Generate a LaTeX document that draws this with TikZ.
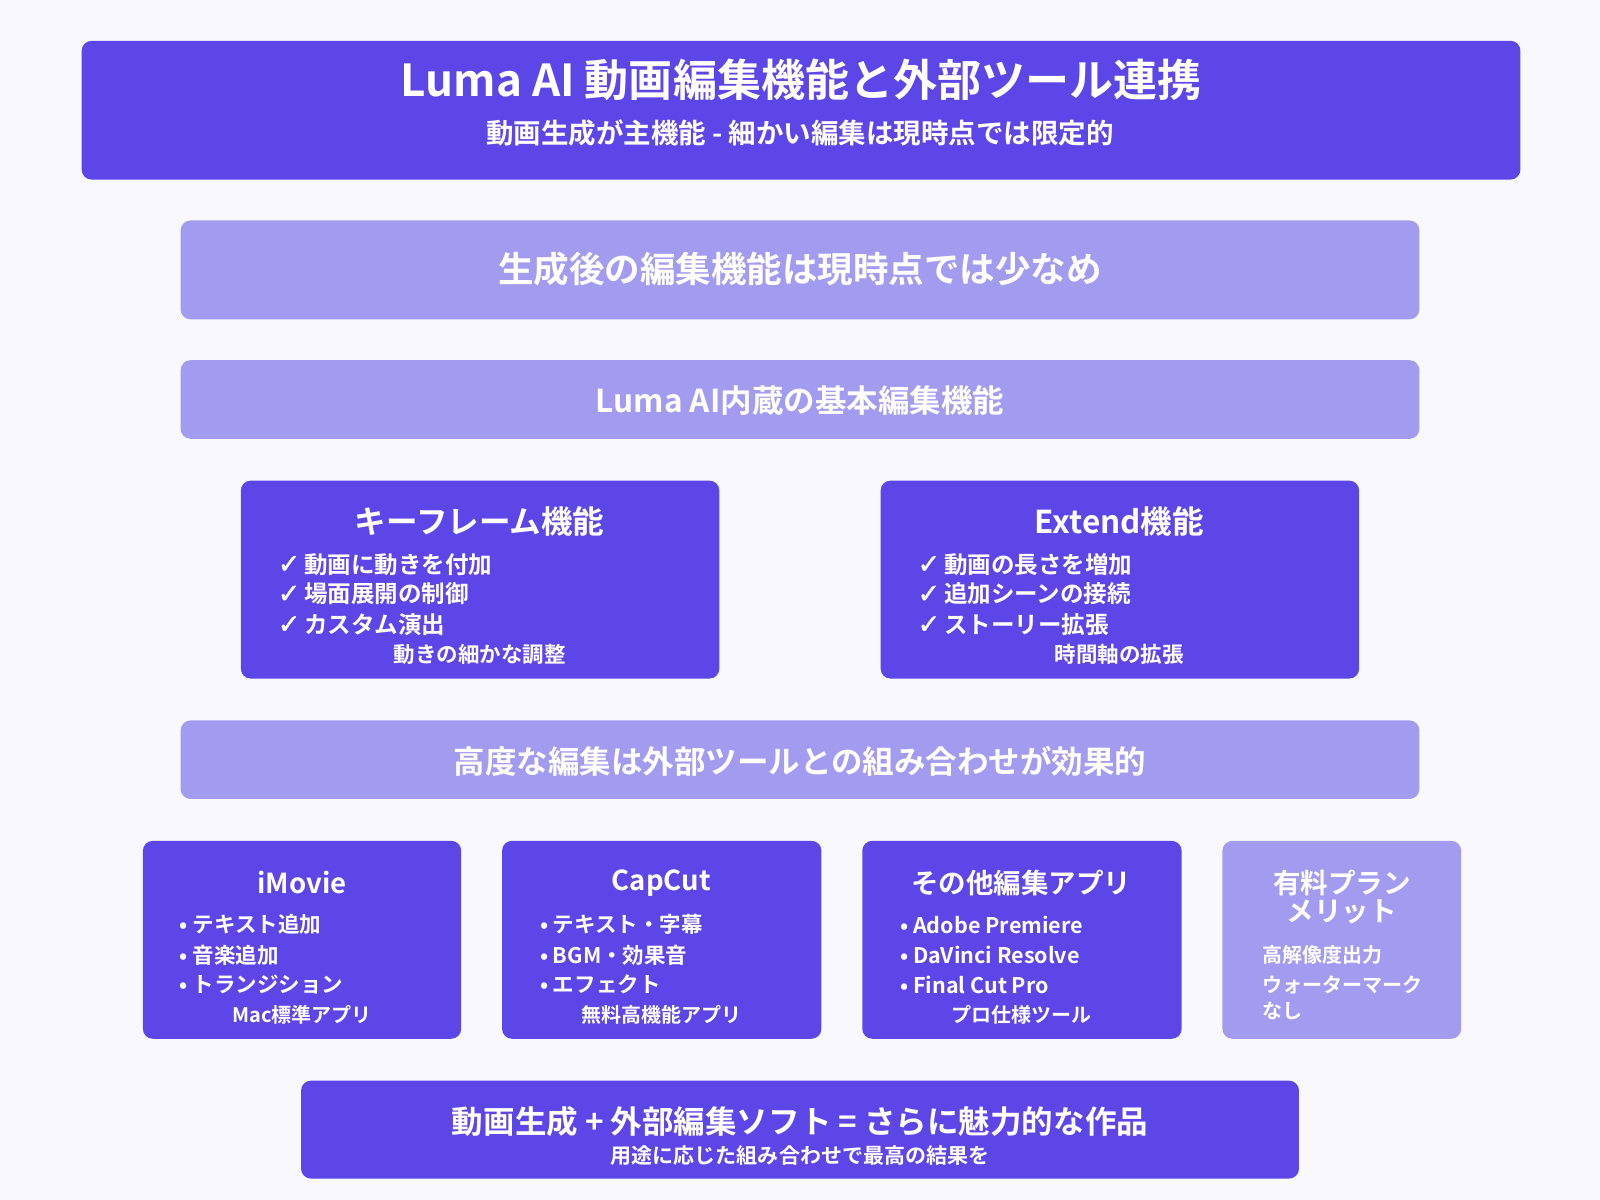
\documentclass[tikz,border=0pt]{standalone}
\usepackage{fontspec}
\setmainfont{Noto Sans CJK JP Bold}
\newfontfamily\dv{DejaVu Sans}[FakeBold=1.5]
\definecolor{bg}{HTML}{F8F8FE}
\definecolor{dk}{HTML}{5C46E8}
\definecolor{lt}{HTML}{A39BF0}
\newcommand{\fs}[1]{\fontsize{#1}{#1}\selectfont}
\newcommand{\ck}{{\dv\fontsize{27}{27}\selectfont ✓}\,}
\tikzset{
 dbox/.style={fill=dk,rounded corners=10pt,draw=none},
 lbox/.style={fill=lt,rounded corners=10pt,draw=none},
 txt/.style={text=white,inner sep=0,anchor=center},
 itm/.style={text=white,inner sep=0,anchor=west},
}
\begin{document}
\begin{tikzpicture}[x=1.02pt,y=-1.02pt]
\fill[bg] (0,0) rectangle (1568,1176);
\useasboundingbox (0,0) rectangle (1568,1176);
% title
\path[dbox] (80,40) rectangle (1490,176);
\node[txt,font=\fs{44}] (t1) at (785,78) {Luma AI 動画編集機能と外部ツール連携};
\node[txt,font=\fs{27.5}] (t2) at (784,130) {動画生成が主機能 - 細かい編集は現時点では限定的};
% bands
\path[lbox] (177,216) rectangle (1391,313);
\node[txt,font=\fs{35.5}] (b1) at (784,264) {生成後の編集機能は現時点では少なめ};
\path[lbox] (177,353) rectangle (1391,430);
\node[txt,font=\fs{31.5}] (b2) at (784,393) {Luma AI内蔵の基本編集機能};
% keyframe
\path[dbox] (236,471) rectangle (705,665);
\node[txt,font=\fs{31.5}] (k0) at (470,511) {キーフレーム機能};
\node[itm,font=\fs{23.5}] (k1) at (272,553) {\ck 動画に動きを付加};
\node[itm,font=\fs{23.5}] (k2) at (272,582) {\ck 場面展開の制御};
\node[itm,font=\fs{23.5}] (k3) at (272,612) {\ck カスタム演出};
\node[txt,font=\fs{21.5}] (k4) at (470,641) {動きの細かな調整};
% extend
\path[dbox] (863,471) rectangle (1332,665);
\node[txt,font=\fs{31.5}] (e0) at (1097,511) {Extend機能};
\node[itm,font=\fs{23.5}] (e1) at (899,553) {\ck 動画の長さを増加};
\node[itm,font=\fs{23.5}] (e2) at (899,582) {\ck 追加シーンの接続};
\node[itm,font=\fs{23.5}] (e3) at (899,612) {\ck ストーリー拡張};
\node[txt,font=\fs{21.5}] (e4) at (1097,641) {時間軸の拡張};
% band
\path[lbox] (177,706) rectangle (1391,783);
\node[txt,font=\fs{31.5}] (b3) at (784,746) {高度な編集は外部ツールとの組み合わせが効果的};
% tools
\path[dbox] (140,824) rectangle (452,1018);
\node[txt,font=\fs{27.5}] (i0) at (296,865) {iMovie};
\node[itm,font=\fs{21.5}] (i1) at (176,906) {• テキスト追加};
\node[itm,font=\fs{21.5}] (i2) at (176,936) {• 音楽追加};
\node[itm,font=\fs{21.5}] (i3) at (176,965) {• トランジション};
\node[txt,font=\fs{20}] (i4) at (296,995) {Mac標準アプリ};
\path[dbox] (492,824) rectangle (805,1018);
\node[txt,font=\fs{27.5}] (c0) at (648,865) {CapCut};
\node[itm,font=\fs{21.5}] (c1) at (529,906) {• テキスト・字幕};
\node[itm,font=\fs{21.5}] (c2) at (529,936) {• BGM・効果音};
\node[itm,font=\fs{21.5}] (c3) at (529,965) {• エフェクト};
\node[txt,font=\fs{20}] (c4) at (648,995) {無料高機能アプリ};
\path[dbox] (845,824) rectangle (1158,1018);
\node[txt,font=\fs{27.5}] (o0) at (1001,865) {その他編集アプリ};
\node[itm,font=\fs{21.5}] (o1) at (882,906) {• Adobe Premiere};
\node[itm,font=\fs{21.5}] (o2) at (882,936) {• DaVinci Resolve};
\node[itm,font=\fs{21.5}] (o3) at (882,965) {• Final Cut Pro};
\node[txt,font=\fs{20}] (o4) at (1001,995) {プロ仕様ツール};
\path[lbox] (1198,824) rectangle (1432,1018);
\node[txt,font=\fs{27.5}] (p0) at (1315,865) {有料プラン};
\node[txt,font=\fs{27.5}] (p1) at (1315,894) {メリット};
\node[itm,font=\fs{20}] (p2) at (1237,936) {高解像度出力};
\node[itm,font=\fs{20}] (p3) at (1237,965) {ウォーターマーク};
\node[itm,font=\fs{20}] (p4) at (1237,991) {なし};
% bottom
\path[dbox] (295,1059) rectangle (1273,1155);
\node[txt,font=\fs{31.5}] (f1) at (784,1099) {動画生成 + 外部編集ソフト = さらに魅力的な作品};
\node[txt,font=\fs{21}] (f2) at (784,1132) {用途に応じた組み合わせで最高の結果を};
\end{tikzpicture}
\end{document}
